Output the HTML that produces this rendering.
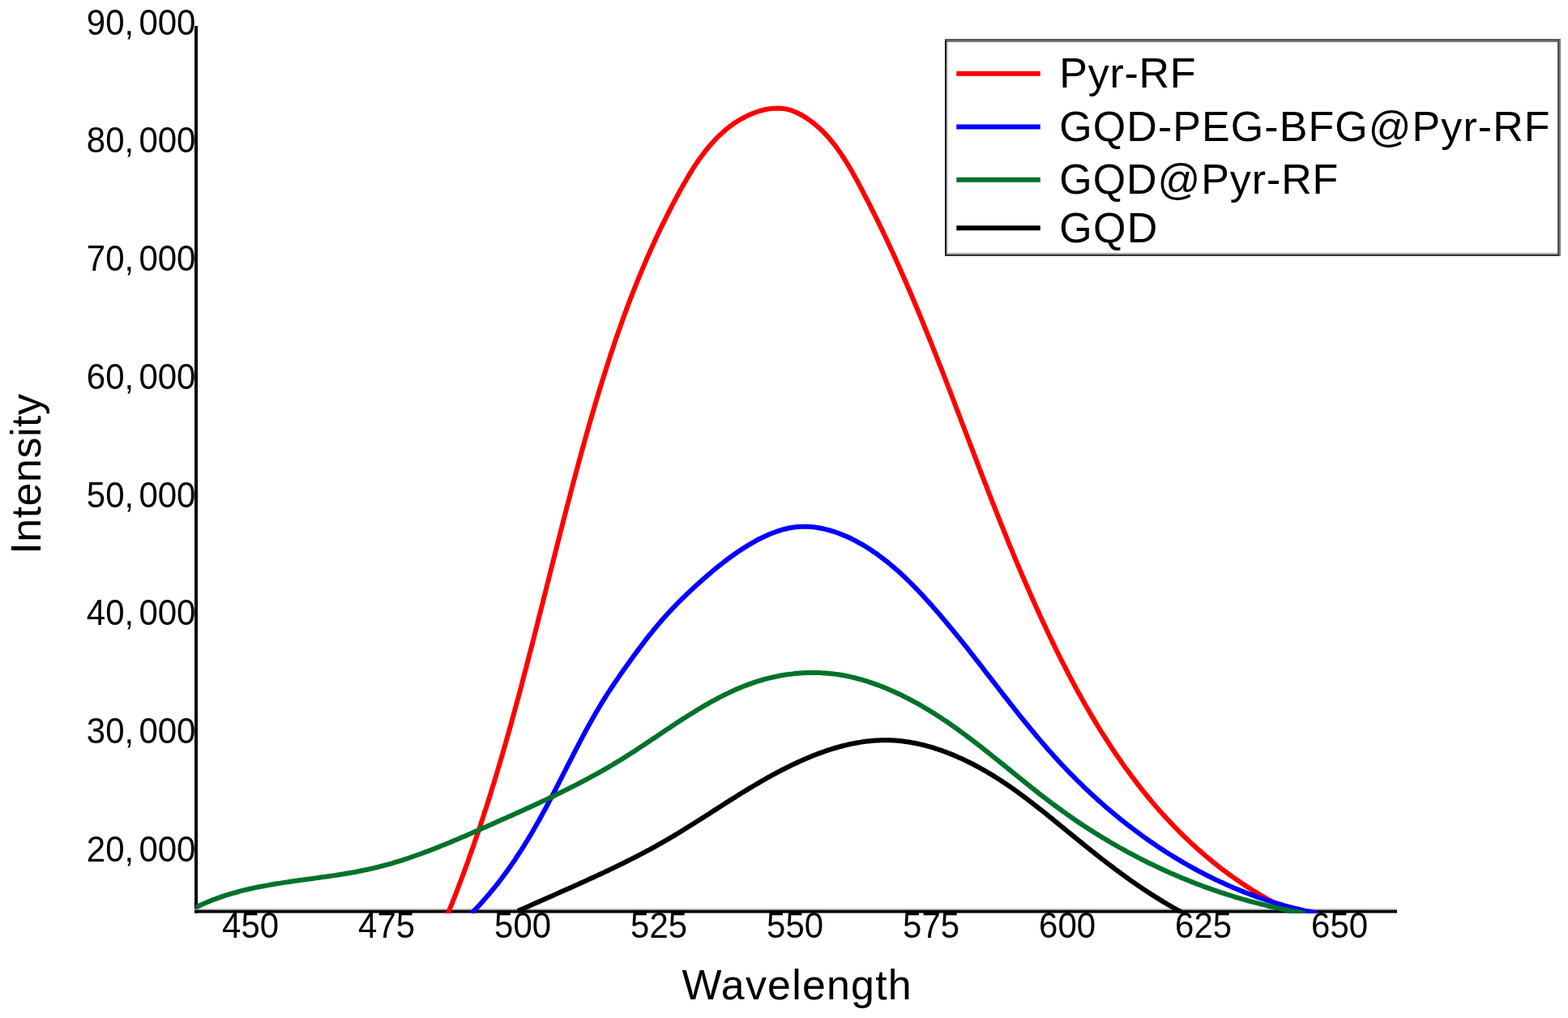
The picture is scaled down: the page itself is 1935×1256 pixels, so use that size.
<!DOCTYPE html>
<html><head><meta charset="utf-8"><title>Intensity vs Wavelength</title>
<style>
html,body{margin:0;padding:0;background:#fff;}
body{width:1935px;height:1256px;overflow:hidden;}
svg{display:block;}
text{font-family:"Liberation Sans", Arial, sans-serif;fill:#000;}
</style></head>
<body>
<svg width="1935" height="1256" viewBox="0 0 1935 1256">
<rect width="1935" height="1256" fill="#fff"/>
<rect x="240" y="32" width="4" height="1094.5" fill="#000"/>
<rect x="240" y="1121.2" width="1484" height="1.6" fill="#b0b0b0"/>
<rect x="240" y="1122.8" width="1484" height="3.7" fill="#000"/>
<defs><clipPath id="pa"><rect x="241.5" y="0" width="1490" height="1127"/></clipPath></defs>
<g clip-path="url(#pa)" fill="none" stroke-width="6.0" stroke-linejoin="round" stroke-linecap="butt">
<path stroke="#ff0000" d="M552.3,1128.1 L554.1,1123.8 L555.8,1119.5 L557.6,1115.2 L559.3,1110.9 L561.0,1106.6 L562.7,1102.3 L564.3,1097.9 L566.0,1093.6 L567.6,1089.3 L569.3,1084.9 L570.9,1080.6 L572.5,1076.2 L574.1,1071.9 L575.7,1067.5 L577.3,1063.2 L578.8,1058.8 L580.4,1054.4 L581.9,1050.1 L583.5,1045.7 L585.0,1041.3 L586.5,1036.9 L588.0,1032.5 L589.5,1028.2 L591.0,1023.8 L592.5,1019.4 L593.9,1015.0 L595.4,1010.5 L596.8,1006.1 L598.2,1001.7 L599.7,997.3 L601.1,992.9 L602.5,988.5 L603.9,984.0 L605.3,979.6 L606.6,975.2 L608.0,970.7 L609.4,966.3 L610.7,961.8 L612.1,957.4 L613.4,953.0 L614.7,948.5 L616.1,944.0 L617.4,939.6 L618.7,935.1 L620.0,930.7 L621.3,926.2 L622.6,921.7 L623.9,917.3 L625.1,912.8 L626.4,908.3 L627.7,903.8 L628.9,899.4 L630.2,894.9 L631.4,890.4 L632.6,885.9 L633.9,881.4 L635.1,876.9 L636.3,872.5 L637.5,868.0 L638.8,863.5 L640.0,859.0 L641.2,854.5 L642.4,850.0 L643.6,845.5 L644.7,841.0 L645.9,836.5 L647.1,832.0 L648.3,827.5 L649.5,823.0 L650.6,818.4 L651.8,813.9 L653.0,809.4 L654.1,804.9 L655.3,800.4 L656.5,795.9 L657.6,791.4 L658.8,786.9 L659.9,782.4 L661.1,777.8 L662.2,773.3 L663.4,768.8 L664.5,764.3 L665.6,759.8 L666.8,755.3 L667.9,750.7 L669.1,746.2 L670.2,741.7 L671.3,737.2 L672.5,732.7 L673.6,728.2 L674.7,723.6 L675.9,719.1 L677.0,714.6 L678.1,710.1 L679.3,705.6 L680.4,701.1 L681.5,696.5 L682.7,692.0 L683.8,687.5 L685.0,683.0 L686.1,678.5 L687.2,674.0 L688.4,669.5 L689.5,664.9 L690.7,660.4 L691.8,655.9 L693.0,651.4 L694.1,646.9 L695.3,642.4 L696.4,637.9 L697.6,633.4 L698.8,628.9 L699.9,624.4 L701.1,619.9 L702.3,615.4 L703.5,610.9 L704.6,606.4 L705.8,601.9 L707.0,597.4 L708.2,592.9 L709.4,588.4 L710.6,584.0 L711.8,579.5 L713.0,575.0 L714.2,570.5 L715.4,566.0 L716.7,561.6 L717.9,557.1 L719.1,552.6 L720.4,548.2 L721.6,543.7 L722.9,539.2 L724.1,534.8 L725.4,530.3 L726.6,525.8 L727.9,521.4 L729.2,516.9 L730.5,512.5 L731.8,508.1 L733.1,503.6 L734.4,499.2 L735.7,494.7 L737.0,490.3 L738.4,485.9 L739.7,481.5 L741.1,477.0 L742.4,472.6 L743.8,468.2 L745.2,463.8 L746.6,459.4 L748.0,455.0 L749.4,450.6 L750.8,446.2 L752.2,441.8 L753.6,437.4 L755.1,433.0 L756.6,428.6 L758.0,424.2 L759.5,419.8 L761.0,415.5 L762.5,411.1 L764.1,406.7 L765.6,402.4 L767.2,398.0 L768.7,393.7 L770.3,389.3 L771.9,385.0 L773.5,380.6 L775.1,376.3 L776.8,371.9 L778.4,367.6 L780.1,363.3 L781.8,359.0 L783.5,354.7 L785.2,350.3 L787.0,346.0 L788.7,341.7 L790.5,337.4 L792.3,333.1 L794.1,328.9 L795.9,324.6 L797.8,320.3 L799.6,316.0 L801.5,311.8 L803.4,307.5 L805.3,303.2 L807.3,299.0 L809.2,294.7 L811.2,290.5 L813.2,286.2 L815.3,282.0 L817.3,277.8 L819.4,273.6 L821.5,269.3 L823.6,265.1 L825.7,260.9 L827.9,256.7 L830.0,252.5 L832.2,248.3 L834.5,244.1 L836.7,240.0 L839.0,235.8 L841.3,231.6 L843.6,227.5 L846.0,223.4 L848.4,219.3 L850.8,215.2 L853.3,211.2 L855.8,207.2 L858.4,203.2 L861.0,199.3 L863.7,195.5 L866.5,191.7 L869.3,188.0 L872.1,184.4 L875.0,180.8 L878.0,177.4 L881.1,174.0 L884.2,170.7 L887.4,167.5 L890.7,164.4 L894.1,161.4 L897.5,158.5 L901.1,155.7 L904.7,153.1 L908.4,150.6 L912.3,148.2 L916.2,146.0 L920.2,143.9 L924.3,141.9 L928.6,140.1 L932.9,138.5 L937.3,137.0 L941.8,135.8 L946.4,134.8 L951.0,134.1 L955.5,133.7 L960.1,133.6 L964.7,133.8 L969.2,134.4 L973.6,135.4 L978.0,136.7 L982.2,138.5 L986.4,140.5 L990.5,142.7 L994.4,145.1 L998.2,147.7 L1001.9,150.4 L1005.5,153.2 L1009.0,156.2 L1012.4,159.2 L1015.6,162.4 L1018.8,165.7 L1021.9,169.0 L1024.9,172.5 L1027.8,176.1 L1030.6,179.7 L1033.4,183.4 L1036.1,187.2 L1038.7,191.1 L1041.3,195.0 L1043.8,198.9 L1046.3,203.0 L1048.7,207.0 L1051.1,211.1 L1053.4,215.2 L1055.7,219.4 L1058.0,223.5 L1060.2,227.7 L1062.4,231.9 L1064.7,236.1 L1066.8,240.3 L1069.0,244.5 L1071.2,248.7 L1073.3,252.9 L1075.4,257.1 L1077.5,261.3 L1079.6,265.5 L1081.7,269.7 L1083.8,273.9 L1085.8,278.1 L1087.9,282.3 L1089.9,286.5 L1091.9,290.7 L1093.9,295.0 L1095.9,299.2 L1097.8,303.4 L1099.8,307.6 L1101.7,311.9 L1103.7,316.1 L1105.6,320.3 L1107.5,324.6 L1109.4,328.8 L1111.3,333.0 L1113.1,337.3 L1115.0,341.5 L1116.9,345.8 L1118.7,350.0 L1120.5,354.3 L1122.4,358.5 L1124.2,362.8 L1126.0,367.1 L1127.8,371.3 L1129.6,375.6 L1131.4,379.9 L1133.2,384.1 L1134.9,388.4 L1136.7,392.7 L1138.5,397.0 L1140.2,401.3 L1141.9,405.6 L1143.7,409.9 L1145.4,414.1 L1147.1,418.4 L1148.9,422.7 L1150.6,427.0 L1152.3,431.4 L1154.0,435.7 L1155.7,440.0 L1157.4,444.3 L1159.1,448.6 L1160.8,452.9 L1162.5,457.2 L1164.1,461.5 L1165.8,465.9 L1167.5,470.2 L1169.2,474.5 L1170.8,478.8 L1172.5,483.1 L1174.2,487.5 L1175.8,491.8 L1177.5,496.1 L1179.1,500.5 L1180.8,504.8 L1182.4,509.1 L1184.1,513.5 L1185.8,517.8 L1187.4,522.1 L1189.1,526.5 L1190.7,530.8 L1192.4,535.1 L1194.0,539.5 L1195.7,543.8 L1197.3,548.1 L1199.0,552.5 L1200.6,556.8 L1202.3,561.1 L1203.9,565.5 L1205.6,569.8 L1207.2,574.1 L1208.9,578.5 L1210.6,582.8 L1212.2,587.1 L1213.9,591.5 L1215.6,595.8 L1217.3,600.1 L1218.9,604.5 L1220.6,608.8 L1222.3,613.1 L1224.0,617.5 L1225.7,621.8 L1227.4,626.1 L1229.1,630.4 L1230.8,634.8 L1232.5,639.1 L1234.2,643.4 L1235.9,647.7 L1237.7,652.0 L1239.4,656.3 L1241.2,660.6 L1242.9,665.0 L1244.6,669.3 L1246.4,673.6 L1248.2,677.9 L1249.9,682.2 L1251.7,686.5 L1253.5,690.8 L1255.3,695.1 L1257.1,699.3 L1258.9,703.6 L1260.7,707.9 L1262.6,712.2 L1264.4,716.5 L1266.3,720.8 L1268.1,725.0 L1270.0,729.3 L1271.8,733.6 L1273.7,737.8 L1275.6,742.1 L1277.5,746.3 L1279.4,750.6 L1281.4,754.8 L1283.3,759.1 L1285.2,763.3 L1287.2,767.6 L1289.2,771.8 L1291.2,776.0 L1293.1,780.2 L1295.1,784.5 L1297.2,788.7 L1299.2,792.9 L1301.2,797.1 L1303.3,801.3 L1305.4,805.5 L1307.4,809.7 L1309.5,813.9 L1311.6,818.0 L1313.8,822.2 L1315.9,826.4 L1318.1,830.5 L1320.2,834.7 L1322.4,838.8 L1324.6,842.9 L1326.8,847.0 L1329.0,851.1 L1331.3,855.2 L1333.6,859.3 L1335.8,863.4 L1338.1,867.5 L1340.4,871.5 L1342.8,875.5 L1345.1,879.6 L1347.5,883.6 L1349.9,887.6 L1352.3,891.6 L1354.7,895.6 L1357.1,899.5 L1359.6,903.5 L1362.1,907.4 L1364.6,911.3 L1367.1,915.2 L1369.6,919.1 L1372.2,923.0 L1374.7,926.8 L1377.3,930.7 L1380.0,934.5 L1382.6,938.3 L1385.2,942.1 L1387.9,945.9 L1390.6,949.6 L1393.4,953.3 L1396.1,957.1 L1398.9,960.7 L1401.7,964.4 L1404.5,968.1 L1407.3,971.7 L1410.2,975.3 L1413.1,978.9 L1416.0,982.5 L1418.9,986.0 L1421.9,989.6 L1424.9,993.1 L1427.9,996.6 L1430.9,1000.0 L1434.0,1003.4 L1437.1,1006.9 L1440.2,1010.2 L1443.3,1013.6 L1446.5,1016.9 L1449.7,1020.3 L1452.9,1023.5 L1456.1,1026.8 L1459.4,1030.0 L1462.7,1033.3 L1466.0,1036.4 L1469.4,1039.6 L1472.8,1042.7 L1476.2,1045.8 L1479.6,1048.9 L1483.1,1051.9 L1486.6,1055.0 L1490.1,1057.9 L1493.7,1060.9 L1497.3,1063.8 L1500.9,1066.7 L1504.5,1069.6 L1508.2,1072.4 L1511.9,1075.2 L1515.7,1078.0 L1519.5,1080.7 L1523.3,1083.4 L1527.1,1086.1 L1531.0,1088.7 L1534.9,1091.4 L1538.8,1093.9 L1542.8,1096.5 L1546.8,1099.0 L1550.8,1101.4 L1554.9,1103.9 L1559.0,1106.3 L1563.1,1108.7 L1567.3,1111.0 L1571.5,1113.3 L1575.7,1115.5 L1580.0,1117.7 L1584.3,1119.9 L1588.7,1122.1 L1593.0,1124.2 L1597.5,1126.2"/>
<path stroke="#0000ff" d="M582.3,1126.4 L584.4,1124.3 L586.4,1122.1 L588.5,1120.0 L590.5,1117.9 L592.5,1115.7 L594.5,1113.5 L596.4,1111.3 L598.4,1109.1 L600.3,1106.9 L602.2,1104.7 L604.1,1102.5 L606.0,1100.2 L607.9,1098.0 L609.7,1095.7 L611.6,1093.4 L613.4,1091.1 L615.2,1088.8 L617.0,1086.5 L618.7,1084.2 L620.5,1081.8 L622.2,1079.5 L624.0,1077.1 L625.7,1074.8 L627.4,1072.4 L629.1,1070.0 L630.8,1067.6 L632.4,1065.2 L634.1,1062.8 L635.7,1060.4 L637.3,1057.9 L638.9,1055.5 L640.5,1053.0 L642.1,1050.6 L643.7,1048.1 L645.3,1045.7 L646.8,1043.2 L648.3,1040.7 L649.9,1038.2 L651.4,1035.7 L652.9,1033.2 L654.4,1030.7 L655.9,1028.2 L657.4,1025.7 L658.9,1023.1 L660.3,1020.6 L661.8,1018.0 L663.2,1015.5 L664.7,1013.0 L666.1,1010.4 L667.5,1007.8 L668.9,1005.3 L670.3,1002.7 L671.7,1000.1 L673.1,997.6 L674.5,995.0 L675.9,992.4 L677.2,989.8 L678.6,987.2 L680.0,984.6 L681.3,982.0 L682.7,979.5 L684.0,976.9 L685.4,974.3 L686.7,971.7 L688.1,969.1 L689.4,966.4 L690.7,963.8 L692.1,961.2 L693.4,958.6 L694.7,956.0 L696.0,953.4 L697.4,950.8 L698.7,948.2 L700.0,945.6 L701.4,943.0 L702.7,940.4 L704.0,937.8 L705.4,935.2 L706.7,932.6 L708.0,930.0 L709.4,927.4 L710.7,924.8 L712.1,922.2 L713.4,919.6 L714.8,917.0 L716.1,914.4 L717.5,911.8 L718.9,909.2 L720.3,906.6 L721.6,904.1 L723.0,901.5 L724.4,898.9 L725.8,896.3 L727.3,893.8 L728.7,891.2 L730.1,888.7 L731.6,886.1 L733.0,883.6 L734.5,881.0 L735.9,878.5 L737.4,876.0 L738.9,873.5 L740.4,871.0 L741.9,868.4 L743.5,865.9 L745.0,863.4 L746.6,861.0 L748.1,858.5 L749.7,856.0 L751.3,853.5 L752.9,851.1 L754.5,848.6 L756.2,846.2 L757.8,843.7 L759.4,841.3 L761.1,838.9 L762.8,836.4 L764.5,834.0 L766.1,831.6 L767.8,829.2 L769.5,826.8 L771.2,824.4 L772.9,822.0 L774.7,819.6 L776.4,817.2 L778.1,814.8 L779.8,812.4 L781.5,810.0 L783.3,807.7 L785.0,805.3 L786.8,802.9 L788.5,800.6 L790.3,798.2 L792.0,795.9 L793.8,793.6 L795.6,791.2 L797.3,788.9 L799.1,786.6 L800.9,784.3 L802.8,782.1 L804.6,779.8 L806.4,777.5 L808.3,775.3 L810.1,773.1 L812.0,770.8 L813.9,768.6 L815.7,766.5 L817.6,764.3 L819.6,762.1 L821.5,760.0 L823.4,757.8 L825.4,755.7 L827.3,753.6 L829.3,751.5 L831.3,749.4 L833.3,747.4 L835.3,745.3 L837.3,743.2 L839.4,741.2 L841.4,739.2 L843.5,737.1 L845.6,735.1 L847.6,733.1 L849.7,731.1 L851.8,729.1 L854.0,727.1 L856.1,725.1 L858.3,723.2 L860.4,721.2 L862.6,719.2 L864.8,717.3 L867.0,715.3 L869.2,713.4 L871.4,711.5 L873.6,709.5 L875.9,707.6 L878.1,705.7 L880.4,703.8 L882.7,701.9 L885.0,700.0 L887.3,698.1 L889.7,696.3 L892.0,694.5 L894.4,692.6 L896.7,690.8 L899.1,689.0 L901.5,687.3 L904.0,685.5 L906.4,683.8 L908.9,682.1 L911.3,680.4 L913.8,678.7 L916.3,677.1 L918.9,675.5 L921.4,673.9 L924.0,672.4 L926.5,670.8 L929.1,669.3 L931.8,667.9 L934.4,666.4 L937.0,665.0 L939.7,663.7 L942.3,662.4 L945.0,661.2 L947.7,660.0 L950.4,658.8 L953.2,657.7 L955.9,656.7 L958.6,655.7 L961.4,654.8 L964.1,653.9 L966.9,653.2 L969.7,652.5 L972.4,651.8 L975.2,651.3 L978.0,650.8 L980.8,650.4 L983.6,650.1 L986.4,649.9 L989.2,649.8 L992.0,649.7 L994.8,649.7 L997.6,649.8 L1000.4,650.0 L1003.2,650.3 L1006.0,650.6 L1008.8,651.0 L1011.6,651.5 L1014.4,652.0 L1017.2,652.6 L1019.9,653.3 L1022.7,654.0 L1025.5,654.8 L1028.2,655.6 L1031.0,656.5 L1033.7,657.5 L1036.4,658.5 L1039.1,659.6 L1041.8,660.7 L1044.5,661.8 L1047.2,663.0 L1049.9,664.3 L1052.5,665.6 L1055.1,666.9 L1057.7,668.3 L1060.3,669.8 L1062.9,671.2 L1065.5,672.7 L1068.0,674.2 L1070.5,675.8 L1073.0,677.4 L1075.5,679.0 L1077.9,680.7 L1080.4,682.3 L1082.8,684.0 L1085.2,685.8 L1087.5,687.5 L1089.9,689.3 L1092.2,691.1 L1094.5,692.9 L1096.8,694.8 L1099.1,696.7 L1101.3,698.5 L1103.6,700.5 L1105.8,702.4 L1108.0,704.3 L1110.2,706.3 L1112.4,708.3 L1114.5,710.3 L1116.7,712.3 L1118.8,714.4 L1120.9,716.4 L1123.0,718.5 L1125.1,720.6 L1127.2,722.7 L1129.2,724.8 L1131.3,726.9 L1133.3,729.0 L1135.3,731.2 L1137.4,733.3 L1139.4,735.5 L1141.4,737.7 L1143.4,739.9 L1145.3,742.0 L1147.3,744.2 L1149.3,746.4 L1151.2,748.7 L1153.2,750.9 L1155.1,753.1 L1157.0,755.3 L1159.0,757.5 L1160.9,759.8 L1162.8,762.0 L1164.7,764.3 L1166.6,766.5 L1168.5,768.8 L1170.3,771.0 L1172.2,773.3 L1174.1,775.5 L1176.0,777.8 L1177.8,780.1 L1179.7,782.4 L1181.5,784.7 L1183.4,786.9 L1185.2,789.2 L1187.1,791.5 L1188.9,793.8 L1190.7,796.1 L1192.6,798.4 L1194.4,800.7 L1196.2,803.0 L1198.0,805.3 L1199.8,807.6 L1201.6,809.9 L1203.4,812.3 L1205.2,814.6 L1207.1,816.9 L1208.9,819.2 L1210.7,821.5 L1212.5,823.8 L1214.2,826.1 L1216.0,828.5 L1217.8,830.8 L1219.6,833.1 L1221.4,835.4 L1223.2,837.7 L1225.0,840.1 L1226.8,842.4 L1228.6,844.7 L1230.4,847.0 L1232.2,849.3 L1234.0,851.6 L1235.8,854.0 L1237.6,856.3 L1239.4,858.6 L1241.2,860.9 L1243.0,863.2 L1244.8,865.5 L1246.6,867.8 L1248.4,870.1 L1250.2,872.4 L1252.0,874.7 L1253.8,877.0 L1255.7,879.3 L1257.5,881.6 L1259.3,883.9 L1261.1,886.1 L1263.0,888.4 L1264.8,890.7 L1266.7,893.0 L1268.5,895.2 L1270.4,897.5 L1272.2,899.7 L1274.1,902.0 L1276.0,904.2 L1277.8,906.5 L1279.7,908.7 L1281.6,910.9 L1283.5,913.2 L1285.4,915.4 L1287.3,917.6 L1289.2,919.8 L1291.1,922.0 L1293.0,924.2 L1295.0,926.4 L1296.9,928.6 L1298.9,930.8 L1300.8,933.0 L1302.8,935.1 L1304.8,937.3 L1306.7,939.4 L1308.7,941.6 L1310.7,943.7 L1312.7,945.8 L1314.8,948.0 L1316.8,950.1 L1318.8,952.2 L1320.9,954.3 L1322.9,956.4 L1325.0,958.4 L1327.0,960.5 L1329.1,962.6 L1331.2,964.6 L1333.3,966.7 L1335.4,968.7 L1337.5,970.8 L1339.6,972.8 L1341.7,974.8 L1343.9,976.8 L1346.0,978.8 L1348.1,980.8 L1350.3,982.8 L1352.5,984.8 L1354.6,986.7 L1356.8,988.7 L1359.0,990.6 L1361.2,992.6 L1363.4,994.5 L1365.6,996.4 L1367.9,998.3 L1370.1,1000.2 L1372.3,1002.1 L1374.6,1004.0 L1376.8,1005.8 L1379.1,1007.7 L1381.4,1009.5 L1383.6,1011.4 L1385.9,1013.2 L1388.2,1015.0 L1390.5,1016.8 L1392.8,1018.6 L1395.2,1020.4 L1397.5,1022.2 L1399.8,1023.9 L1402.2,1025.7 L1404.5,1027.4 L1406.9,1029.2 L1409.2,1030.9 L1411.6,1032.6 L1414.0,1034.3 L1416.4,1036.0 L1418.8,1037.7 L1421.2,1039.3 L1423.6,1041.0 L1426.0,1042.6 L1428.4,1044.3 L1430.9,1045.9 L1433.3,1047.5 L1435.7,1049.1 L1438.2,1050.7 L1440.7,1052.2 L1443.1,1053.8 L1445.6,1055.3 L1448.1,1056.9 L1450.6,1058.4 L1453.1,1059.9 L1455.6,1061.4 L1458.1,1062.9 L1460.6,1064.4 L1463.2,1065.8 L1465.7,1067.3 L1468.2,1068.7 L1470.8,1070.1 L1473.4,1071.5 L1475.9,1072.9 L1478.5,1074.3 L1481.1,1075.7 L1483.7,1077.0 L1486.3,1078.4 L1488.9,1079.7 L1491.5,1081.0 L1494.1,1082.3 L1496.7,1083.6 L1499.3,1084.9 L1502.0,1086.1 L1504.6,1087.4 L1507.3,1088.6 L1509.9,1089.8 L1512.6,1091.0 L1515.3,1092.2 L1517.9,1093.4 L1520.6,1094.6 L1523.3,1095.7 L1526.0,1096.8 L1528.7,1097.9 L1531.4,1099.0 L1534.1,1100.1 L1536.9,1101.2 L1539.6,1102.3 L1542.3,1103.3 L1545.1,1104.3 L1547.8,1105.3 L1550.6,1106.3 L1553.4,1107.3 L1556.1,1108.3 L1558.9,1109.2 L1561.7,1110.2 L1564.5,1111.1 L1567.3,1112.0 L1570.1,1112.9 L1572.9,1113.7 L1575.7,1114.6 L1578.6,1115.4 L1581.4,1116.2 L1584.2,1117.1 L1587.1,1117.8 L1589.9,1118.6 L1592.8,1119.4 L1595.6,1120.1 L1598.5,1120.8 L1601.4,1121.5 L1604.3,1122.2 L1607.1,1122.9 L1610.0,1123.6 L1612.9,1124.2 L1615.9,1124.8 L1618.8,1125.4 L1621.7,1126.0 L1624.6,1126.6"/>
<path stroke="#00722a" d="M242.0,1119.3 L244.7,1118.0 L247.5,1116.7 L250.3,1115.4 L253.1,1114.2 L255.9,1113.0 L258.7,1111.9 L261.5,1110.7 L264.3,1109.7 L267.1,1108.6 L270.0,1107.6 L272.8,1106.6 L275.7,1105.6 L278.6,1104.7 L281.4,1103.8 L284.3,1102.9 L287.2,1102.1 L290.1,1101.3 L293.0,1100.5 L295.9,1099.7 L298.8,1098.9 L301.7,1098.2 L304.7,1097.5 L307.6,1096.8 L310.5,1096.2 L313.5,1095.5 L316.4,1094.9 L319.4,1094.3 L322.3,1093.7 L325.3,1093.2 L328.3,1092.6 L331.2,1092.1 L334.2,1091.5 L337.2,1091.0 L340.2,1090.5 L343.2,1090.0 L346.1,1089.6 L349.1,1089.1 L352.1,1088.6 L355.1,1088.2 L358.1,1087.7 L361.1,1087.3 L364.1,1086.9 L367.1,1086.5 L370.1,1086.0 L373.1,1085.6 L376.1,1085.2 L379.1,1084.8 L382.2,1084.4 L385.2,1084.0 L388.2,1083.6 L391.2,1083.1 L394.2,1082.7 L397.2,1082.3 L400.2,1081.9 L403.2,1081.5 L406.2,1081.0 L409.2,1080.6 L412.2,1080.1 L415.2,1079.7 L418.2,1079.2 L421.2,1078.7 L424.2,1078.3 L427.2,1077.8 L430.2,1077.3 L433.1,1076.7 L436.1,1076.2 L439.1,1075.7 L442.1,1075.1 L445.0,1074.5 L448.0,1073.9 L450.9,1073.3 L453.9,1072.7 L456.9,1072.0 L459.8,1071.4 L462.7,1070.7 L465.7,1070.0 L468.6,1069.2 L471.5,1068.5 L474.4,1067.7 L477.4,1066.9 L480.3,1066.1 L483.2,1065.3 L486.1,1064.4 L489.0,1063.5 L491.8,1062.7 L494.7,1061.8 L497.6,1060.8 L500.5,1059.9 L503.4,1059.0 L506.2,1058.0 L509.1,1057.0 L511.9,1056.0 L514.8,1055.0 L517.6,1054.0 L520.5,1053.0 L523.3,1051.9 L526.2,1050.8 L529.0,1049.8 L531.8,1048.7 L534.7,1047.6 L537.5,1046.5 L540.3,1045.4 L543.1,1044.3 L546.0,1043.1 L548.8,1042.0 L551.6,1040.8 L554.4,1039.7 L557.2,1038.5 L560.0,1037.3 L562.8,1036.2 L565.6,1035.0 L568.4,1033.8 L571.2,1032.6 L574.0,1031.4 L576.8,1030.2 L579.5,1029.0 L582.3,1027.8 L585.1,1026.5 L587.9,1025.3 L590.7,1024.1 L593.4,1022.9 L596.2,1021.6 L599.0,1020.4 L601.7,1019.2 L604.5,1018.0 L607.3,1016.7 L610.0,1015.5 L612.8,1014.3 L615.6,1013.0 L618.3,1011.8 L621.1,1010.6 L623.9,1009.4 L626.6,1008.1 L629.4,1006.9 L632.1,1005.7 L634.9,1004.4 L637.6,1003.2 L640.4,1002.0 L643.1,1000.7 L645.9,999.5 L648.6,998.2 L651.3,997.0 L654.1,995.7 L656.8,994.5 L659.5,993.2 L662.3,992.0 L665.0,990.7 L667.7,989.4 L670.5,988.1 L673.2,986.9 L675.9,985.6 L678.6,984.3 L681.3,983.0 L684.0,981.7 L686.7,980.4 L689.4,979.1 L692.1,977.7 L694.8,976.4 L697.5,975.1 L700.2,973.7 L702.9,972.4 L705.6,971.0 L708.3,969.7 L711.0,968.3 L713.7,966.9 L716.3,965.5 L719.0,964.1 L721.7,962.7 L724.3,961.3 L727.0,959.9 L729.6,958.4 L732.3,957.0 L734.9,955.5 L737.6,954.1 L740.2,952.6 L742.9,951.1 L745.5,949.6 L748.1,948.1 L750.7,946.6 L753.4,945.0 L756.0,943.5 L758.6,941.9 L761.2,940.4 L763.8,938.8 L766.4,937.2 L769.0,935.6 L771.6,934.0 L774.2,932.3 L776.7,930.7 L779.3,929.0 L781.9,927.4 L784.5,925.7 L787.0,924.0 L789.6,922.3 L792.2,920.6 L794.7,918.9 L797.3,917.2 L799.9,915.5 L802.4,913.8 L805.0,912.1 L807.5,910.4 L810.1,908.7 L812.7,906.9 L815.2,905.2 L817.8,903.5 L820.3,901.8 L822.9,900.1 L825.5,898.4 L828.0,896.7 L830.6,895.0 L833.2,893.3 L835.7,891.6 L838.3,889.9 L840.9,888.3 L843.4,886.6 L846.0,885.0 L848.6,883.3 L851.2,881.7 L853.8,880.1 L856.4,878.5 L859.0,876.9 L861.6,875.3 L864.2,873.7 L866.8,872.2 L869.4,870.6 L872.0,869.1 L874.7,867.6 L877.3,866.2 L880.0,864.7 L882.6,863.3 L885.3,861.8 L887.9,860.4 L890.6,859.1 L893.3,857.7 L896.0,856.4 L898.7,855.1 L901.4,853.8 L904.1,852.6 L906.8,851.3 L909.5,850.1 L912.3,849.0 L915.0,847.8 L917.8,846.7 L920.6,845.6 L923.3,844.6 L926.1,843.6 L928.9,842.6 L931.7,841.6 L934.6,840.7 L937.4,839.8 L940.3,839.0 L943.1,838.2 L946.0,837.4 L948.9,836.7 L951.8,836.0 L954.7,835.3 L957.6,834.7 L960.5,834.1 L963.4,833.5 L966.4,833.0 L969.3,832.5 L972.3,832.1 L975.2,831.7 L978.2,831.4 L981.2,831.0 L984.1,830.8 L987.1,830.5 L990.1,830.3 L993.1,830.2 L996.1,830.1 L999.1,830.0 L1002.1,830.0 L1005.1,830.0 L1008.0,830.0 L1011.0,830.1 L1014.0,830.2 L1017.0,830.4 L1020.0,830.6 L1023.0,830.9 L1026.0,831.2 L1029.0,831.5 L1032.0,831.9 L1035.0,832.3 L1037.9,832.8 L1040.9,833.3 L1043.9,833.9 L1046.8,834.5 L1049.8,835.1 L1052.7,835.8 L1055.7,836.5 L1058.6,837.3 L1061.5,838.1 L1064.4,838.9 L1067.4,839.8 L1070.3,840.7 L1073.2,841.6 L1076.1,842.6 L1078.9,843.6 L1081.8,844.6 L1084.7,845.7 L1087.5,846.8 L1090.4,847.9 L1093.2,849.0 L1096.0,850.2 L1098.8,851.4 L1101.7,852.7 L1104.4,853.9 L1107.2,855.2 L1110.0,856.5 L1112.7,857.8 L1115.5,859.2 L1118.2,860.6 L1120.9,862.0 L1123.6,863.4 L1126.3,864.8 L1129.0,866.3 L1131.7,867.7 L1134.3,869.2 L1137.0,870.7 L1139.6,872.3 L1142.2,873.8 L1144.8,875.4 L1147.4,876.9 L1150.0,878.5 L1152.6,880.1 L1155.1,881.8 L1157.7,883.4 L1160.2,885.1 L1162.7,886.7 L1165.3,888.4 L1167.8,890.1 L1170.3,891.8 L1172.8,893.5 L1175.2,895.3 L1177.7,897.0 L1180.2,898.8 L1182.7,900.5 L1185.1,902.3 L1187.5,904.1 L1190.0,905.9 L1192.4,907.7 L1194.8,909.5 L1197.3,911.3 L1199.7,913.1 L1202.1,915.0 L1204.5,916.8 L1206.9,918.7 L1209.3,920.5 L1211.7,922.4 L1214.1,924.3 L1216.4,926.2 L1218.8,928.0 L1221.2,929.9 L1223.6,931.8 L1225.9,933.7 L1228.3,935.6 L1230.7,937.5 L1233.0,939.4 L1235.4,941.3 L1237.8,943.2 L1240.1,945.1 L1242.5,947.0 L1244.8,948.9 L1247.2,950.8 L1249.5,952.8 L1251.9,954.7 L1254.3,956.6 L1256.6,958.5 L1259.0,960.4 L1261.3,962.3 L1263.7,964.2 L1266.1,966.1 L1268.4,968.0 L1270.8,969.9 L1273.2,971.8 L1275.6,973.6 L1277.9,975.5 L1280.3,977.4 L1282.7,979.3 L1285.1,981.1 L1287.5,983.0 L1289.9,984.8 L1292.3,986.7 L1294.7,988.5 L1297.1,990.3 L1299.5,992.1 L1302.0,994.0 L1304.4,995.7 L1306.8,997.5 L1309.3,999.3 L1311.7,1001.1 L1314.2,1002.8 L1316.7,1004.6 L1319.1,1006.3 L1321.6,1008.1 L1324.1,1009.8 L1326.6,1011.5 L1329.1,1013.2 L1331.6,1014.9 L1334.1,1016.6 L1336.6,1018.2 L1339.2,1019.9 L1341.7,1021.5 L1344.2,1023.2 L1346.8,1024.8 L1349.3,1026.4 L1351.9,1028.0 L1354.5,1029.6 L1357.0,1031.2 L1359.6,1032.8 L1362.2,1034.3 L1364.8,1035.9 L1367.4,1037.4 L1370.0,1039.0 L1372.6,1040.5 L1375.2,1042.0 L1377.8,1043.5 L1380.4,1045.0 L1383.1,1046.5 L1385.7,1047.9 L1388.4,1049.4 L1391.0,1050.9 L1393.7,1052.3 L1396.3,1053.7 L1399.0,1055.1 L1401.7,1056.5 L1404.3,1057.9 L1407.0,1059.3 L1409.7,1060.7 L1412.4,1062.0 L1415.1,1063.4 L1417.8,1064.7 L1420.5,1066.0 L1423.3,1067.3 L1426.0,1068.6 L1428.7,1069.9 L1431.4,1071.2 L1434.2,1072.5 L1436.9,1073.7 L1439.7,1075.0 L1442.4,1076.2 L1445.2,1077.4 L1448.0,1078.6 L1450.7,1079.8 L1453.5,1081.0 L1456.3,1082.2 L1459.1,1083.4 L1461.9,1084.5 L1464.7,1085.6 L1467.5,1086.8 L1470.3,1087.9 L1473.1,1089.0 L1475.9,1090.1 L1478.7,1091.2 L1481.6,1092.2 L1484.4,1093.3 L1487.2,1094.3 L1490.1,1095.4 L1492.9,1096.4 L1495.8,1097.4 L1498.6,1098.4 L1501.5,1099.4 L1504.4,1100.3 L1507.2,1101.3 L1510.1,1102.2 L1513.0,1103.2 L1515.9,1104.1 L1518.8,1105.0 L1521.7,1105.9 L1524.5,1106.8 L1527.5,1107.7 L1530.4,1108.5 L1533.3,1109.4 L1536.2,1110.2 L1539.1,1111.0 L1542.0,1111.8 L1545.0,1112.6 L1547.9,1113.4 L1550.8,1114.2 L1553.8,1114.9 L1556.7,1115.7 L1559.7,1116.4 L1562.6,1117.1 L1565.6,1117.8 L1568.5,1118.5 L1571.5,1119.2 L1574.5,1119.9 L1577.4,1120.5 L1580.4,1121.2 L1583.4,1121.8 L1586.4,1122.4 L1589.4,1123.0 L1592.4,1123.6 L1595.3,1124.2 L1598.3,1124.8 L1601.4,1125.3 L1604.4,1125.8 L1607.4,1126.4 L1610.4,1126.9"/>
<path stroke="#000000" d="M639.0,1124.1 L640.7,1123.3 L642.5,1122.5 L644.2,1121.8 L645.9,1121.0 L647.6,1120.2 L649.3,1119.5 L651.1,1118.7 L652.8,1117.9 L654.5,1117.1 L656.2,1116.4 L658.0,1115.6 L659.7,1114.8 L661.4,1114.1 L663.1,1113.3 L664.9,1112.6 L666.6,1111.8 L668.3,1111.0 L670.1,1110.3 L671.8,1109.5 L673.5,1108.7 L675.2,1108.0 L677.0,1107.2 L678.7,1106.4 L680.4,1105.7 L682.2,1104.9 L683.9,1104.1 L685.6,1103.4 L687.3,1102.6 L689.1,1101.8 L690.8,1101.1 L692.5,1100.3 L694.2,1099.6 L696.0,1098.8 L697.7,1098.0 L699.4,1097.2 L701.2,1096.5 L702.9,1095.7 L704.6,1094.9 L706.3,1094.2 L708.1,1093.4 L709.8,1092.6 L711.5,1091.9 L713.2,1091.1 L715.0,1090.3 L716.7,1089.5 L718.4,1088.7 L720.1,1088.0 L721.9,1087.2 L723.6,1086.4 L725.3,1085.6 L727.0,1084.8 L728.7,1084.1 L730.4,1083.3 L732.2,1082.5 L733.9,1081.7 L735.6,1080.9 L737.3,1080.1 L739.0,1079.3 L740.7,1078.5 L742.4,1077.7 L744.2,1076.9 L745.9,1076.1 L747.6,1075.3 L749.3,1074.5 L751.0,1073.7 L752.7,1072.9 L754.4,1072.1 L756.1,1071.3 L757.8,1070.4 L759.5,1069.6 L761.2,1068.8 L762.9,1068.0 L764.6,1067.1 L766.3,1066.3 L768.0,1065.5 L769.7,1064.7 L771.3,1063.8 L773.0,1063.0 L774.7,1062.1 L776.4,1061.3 L778.1,1060.4 L779.8,1059.6 L781.4,1058.7 L783.1,1057.9 L784.8,1057.0 L786.5,1056.2 L788.1,1055.3 L789.8,1054.4 L791.5,1053.6 L793.2,1052.7 L794.8,1051.8 L796.5,1050.9 L798.1,1050.0 L799.8,1049.2 L801.5,1048.3 L803.1,1047.4 L804.8,1046.5 L806.4,1045.6 L808.1,1044.7 L809.7,1043.8 L811.3,1042.8 L813.0,1041.9 L814.6,1041.0 L816.3,1040.1 L817.9,1039.1 L819.5,1038.2 L821.2,1037.3 L822.8,1036.3 L824.4,1035.4 L826.0,1034.4 L827.7,1033.5 L829.3,1032.5 L830.9,1031.6 L832.5,1030.6 L834.1,1029.6 L835.7,1028.7 L837.3,1027.7 L838.9,1026.7 L840.5,1025.7 L842.1,1024.8 L843.7,1023.8 L845.3,1022.8 L846.9,1021.8 L848.5,1020.8 L850.1,1019.8 L851.7,1018.8 L853.3,1017.8 L854.9,1016.8 L856.5,1015.8 L858.1,1014.8 L859.7,1013.8 L861.3,1012.8 L862.9,1011.8 L864.5,1010.8 L866.1,1009.8 L867.6,1008.7 L869.2,1007.7 L870.8,1006.7 L872.4,1005.7 L874.0,1004.7 L875.6,1003.7 L877.2,1002.6 L878.8,1001.6 L880.3,1000.6 L881.9,999.6 L883.5,998.6 L885.1,997.6 L886.7,996.5 L888.3,995.5 L889.9,994.5 L891.5,993.5 L893.1,992.5 L894.7,991.4 L896.3,990.4 L897.9,989.4 L899.4,988.4 L901.0,987.4 L902.6,986.4 L904.2,985.4 L905.9,984.4 L907.5,983.4 L909.1,982.3 L910.7,981.3 L912.3,980.3 L913.9,979.3 L915.5,978.3 L917.1,977.3 L918.7,976.4 L920.4,975.4 L922.0,974.4 L923.6,973.4 L925.2,972.4 L926.9,971.4 L928.5,970.5 L930.1,969.5 L931.8,968.5 L933.4,967.5 L935.1,966.6 L936.7,965.6 L938.3,964.7 L940.0,963.7 L941.7,962.8 L943.3,961.8 L945.0,960.9 L946.6,959.9 L948.3,959.0 L950.0,958.1 L951.7,957.1 L953.3,956.2 L955.0,955.3 L956.7,954.4 L958.4,953.5 L960.1,952.6 L961.8,951.7 L963.5,950.8 L965.2,949.9 L966.9,949.0 L968.6,948.2 L970.3,947.3 L972.0,946.5 L973.8,945.6 L975.5,944.8 L977.2,943.9 L978.9,943.1 L980.7,942.3 L982.4,941.5 L984.1,940.6 L985.9,939.9 L987.6,939.1 L989.4,938.3 L991.1,937.5 L992.9,936.7 L994.6,936.0 L996.4,935.2 L998.1,934.5 L999.9,933.8 L1001.7,933.1 L1003.4,932.3 L1005.2,931.6 L1007.0,931.0 L1008.7,930.3 L1010.5,929.6 L1012.3,928.9 L1014.1,928.3 L1015.9,927.7 L1017.6,927.0 L1019.4,926.4 L1021.2,925.8 L1023.0,925.2 L1024.8,924.7 L1026.6,924.1 L1028.4,923.5 L1030.2,923.0 L1032.0,922.5 L1033.8,922.0 L1035.6,921.4 L1037.4,921.0 L1039.2,920.5 L1041.0,920.0 L1042.8,919.6 L1044.6,919.1 L1046.4,918.7 L1048.2,918.3 L1050.0,917.9 L1051.9,917.5 L1053.7,917.2 L1055.5,916.8 L1057.3,916.5 L1059.1,916.2 L1060.9,915.9 L1062.8,915.6 L1064.6,915.3 L1066.4,915.0 L1068.2,914.8 L1070.1,914.6 L1071.9,914.4 L1073.7,914.2 L1075.5,914.0 L1077.4,913.8 L1079.2,913.7 L1081.0,913.6 L1082.8,913.5 L1084.7,913.4 L1086.5,913.3 L1088.3,913.3 L1090.2,913.2 L1092.0,913.2 L1093.8,913.2 L1095.6,913.2 L1097.5,913.3 L1099.3,913.3 L1101.1,913.4 L1103.0,913.5 L1104.8,913.6 L1106.6,913.8 L1108.5,913.9 L1110.3,914.1 L1112.1,914.3 L1114.0,914.5 L1115.8,914.7 L1117.6,915.0 L1119.4,915.2 L1121.3,915.5 L1123.1,915.8 L1124.9,916.1 L1126.7,916.5 L1128.6,916.8 L1130.4,917.2 L1132.2,917.5 L1134.0,917.9 L1135.8,918.4 L1137.7,918.8 L1139.5,919.2 L1141.3,919.7 L1143.1,920.2 L1144.9,920.6 L1146.7,921.1 L1148.5,921.7 L1150.3,922.2 L1152.1,922.7 L1153.9,923.3 L1155.7,923.9 L1157.5,924.5 L1159.3,925.1 L1161.1,925.7 L1162.9,926.3 L1164.6,927.0 L1166.4,927.6 L1168.2,928.3 L1170.0,929.0 L1171.7,929.7 L1173.5,930.4 L1175.3,931.1 L1177.0,931.8 L1178.8,932.6 L1180.6,933.3 L1182.3,934.1 L1184.1,934.9 L1185.8,935.6 L1187.5,936.4 L1189.3,937.3 L1191.0,938.1 L1192.7,938.9 L1194.5,939.7 L1196.2,940.6 L1197.9,941.5 L1199.6,942.3 L1201.3,943.2 L1203.0,944.1 L1204.7,945.0 L1206.4,945.9 L1208.1,946.8 L1209.8,947.7 L1211.4,948.7 L1213.1,949.6 L1214.8,950.6 L1216.4,951.5 L1218.1,952.5 L1219.7,953.5 L1221.4,954.4 L1223.0,955.4 L1224.7,956.4 L1226.3,957.4 L1227.9,958.4 L1229.5,959.5 L1231.2,960.5 L1232.8,961.5 L1234.4,962.5 L1236.0,963.6 L1237.6,964.6 L1239.1,965.7 L1240.7,966.7 L1242.3,967.8 L1243.9,968.9 L1245.5,970.0 L1247.0,971.0 L1248.6,972.1 L1250.1,973.2 L1251.7,974.3 L1253.2,975.4 L1254.8,976.5 L1256.3,977.6 L1257.9,978.8 L1259.4,979.9 L1260.9,981.0 L1262.5,982.1 L1264.0,983.3 L1265.5,984.4 L1267.0,985.5 L1268.5,986.7 L1270.0,987.8 L1271.5,989.0 L1273.1,990.1 L1274.6,991.3 L1276.1,992.5 L1277.5,993.6 L1279.0,994.8 L1280.5,996.0 L1282.0,997.1 L1283.5,998.3 L1285.0,999.5 L1286.5,1000.7 L1288.0,1001.8 L1289.4,1003.0 L1290.9,1004.2 L1292.4,1005.4 L1293.9,1006.6 L1295.3,1007.8 L1296.8,1008.9 L1298.3,1010.1 L1299.7,1011.3 L1301.2,1012.5 L1302.7,1013.7 L1304.1,1014.9 L1305.6,1016.1 L1307.1,1017.3 L1308.5,1018.5 L1310.0,1019.7 L1311.4,1020.9 L1312.9,1022.1 L1314.4,1023.3 L1315.8,1024.5 L1317.3,1025.7 L1318.7,1026.9 L1320.2,1028.0 L1321.7,1029.2 L1323.1,1030.4 L1324.6,1031.6 L1326.0,1032.8 L1327.5,1034.0 L1329.0,1035.2 L1330.4,1036.4 L1331.9,1037.5 L1333.3,1038.7 L1334.8,1039.9 L1336.3,1041.1 L1337.7,1042.3 L1339.2,1043.5 L1340.7,1044.6 L1342.1,1045.8 L1343.6,1047.0 L1345.1,1048.1 L1346.5,1049.3 L1348.0,1050.5 L1349.5,1051.6 L1350.9,1052.8 L1352.4,1054.0 L1353.9,1055.1 L1355.3,1056.3 L1356.8,1057.4 L1358.3,1058.6 L1359.8,1059.8 L1361.3,1060.9 L1362.7,1062.0 L1364.2,1063.2 L1365.7,1064.3 L1367.2,1065.5 L1368.7,1066.6 L1370.2,1067.7 L1371.7,1068.9 L1373.2,1070.0 L1374.7,1071.1 L1376.2,1072.3 L1377.7,1073.4 L1379.2,1074.5 L1380.7,1075.6 L1382.2,1076.7 L1383.7,1077.8 L1385.2,1078.9 L1386.7,1080.0 L1388.2,1081.1 L1389.7,1082.2 L1391.3,1083.3 L1392.8,1084.4 L1394.3,1085.5 L1395.9,1086.6 L1397.4,1087.7 L1398.9,1088.7 L1400.5,1089.8 L1402.0,1090.9 L1403.6,1092.0 L1405.1,1093.0 L1406.7,1094.1 L1408.2,1095.1 L1409.8,1096.2 L1411.3,1097.2 L1412.9,1098.3 L1414.5,1099.3 L1416.0,1100.3 L1417.6,1101.4 L1419.2,1102.4 L1420.8,1103.4 L1422.4,1104.4 L1424.0,1105.4 L1425.6,1106.4 L1427.1,1107.4 L1428.8,1108.4 L1430.4,1109.4 L1432.0,1110.4 L1433.6,1111.4 L1435.2,1112.4 L1436.8,1113.4 L1438.5,1114.3 L1440.1,1115.3 L1441.7,1116.3 L1443.4,1117.2 L1445.0,1118.2 L1446.7,1119.1 L1448.3,1120.0 L1450.0,1121.0 L1451.6,1121.9 L1453.3,1122.8 L1455.0,1123.7 L1456.7,1124.7 L1458.4,1125.6 L1460.0,1126.5 L1461.7,1127.4 L1463.4,1128.2 L1465.1,1129.1"/>
</g>
<g font-size="44">
<text transform="translate(241.5,42.7) scale(0.955,1)" text-anchor="end">90,<tspan dx="6.5">000</tspan></text>
<text transform="translate(241.5,188.4) scale(0.955,1)" text-anchor="end">80,<tspan dx="6.5">000</tspan></text>
<text transform="translate(241.5,334.1) scale(0.955,1)" text-anchor="end">70,<tspan dx="6.5">000</tspan></text>
<text transform="translate(241.5,479.8) scale(0.955,1)" text-anchor="end">60,<tspan dx="6.5">000</tspan></text>
<text transform="translate(241.5,625.5) scale(0.955,1)" text-anchor="end">50,<tspan dx="6.5">000</tspan></text>
<text transform="translate(241.5,771.2) scale(0.955,1)" text-anchor="end">40,<tspan dx="6.5">000</tspan></text>
<text transform="translate(241.5,916.9) scale(0.955,1)" text-anchor="end">30,<tspan dx="6.5">000</tspan></text>
<text transform="translate(241.5,1062.6) scale(0.955,1)" text-anchor="end">20,<tspan dx="6.5">000</tspan></text>
<text transform="translate(309.1,1156.5) scale(0.955,1)" text-anchor="middle">450</text>
<text transform="translate(477.1,1156.5) scale(0.955,1)" text-anchor="middle">475</text>
<text transform="translate(645.1,1156.5) scale(0.955,1)" text-anchor="middle">500</text>
<text transform="translate(813.1,1156.5) scale(0.955,1)" text-anchor="middle">525</text>
<text transform="translate(981.1,1156.5) scale(0.955,1)" text-anchor="middle">550</text>
<text transform="translate(1149.1,1156.5) scale(0.955,1)" text-anchor="middle">575</text>
<text transform="translate(1317.1,1156.5) scale(0.955,1)" text-anchor="middle">600</text>
<text transform="translate(1485.1,1156.5) scale(0.955,1)" text-anchor="middle">625</text>
<text transform="translate(1653.1,1156.5) scale(0.955,1)" text-anchor="middle">650</text>
</g>
<g>
<rect x="1166" y="48" width="760" height="268" fill="#fff"/>
<rect x="1166" y="48" width="760" height="2" fill="#555"/>
<rect x="1168" y="50" width="756" height="2" fill="#777"/>
<rect x="1922" y="50" width="2" height="264" fill="#505050"/>
<rect x="1924" y="48" width="2" height="268" fill="#787878"/>
<rect x="1168" y="312" width="754" height="2" fill="#aaa"/>
<rect x="1166" y="314" width="758" height="2" fill="#333"/>
<rect x="1166" y="50" width="2" height="264" fill="#000"/>
<rect x="1168" y="52" width="2" height="260" fill="#c8c8c8"/>
</g>
<g font-size="52">
<rect x="1180.3" y="87.8" width="103.5" height="6" fill="#ff0000"/>
<text x="1307.3" y="107.8" letter-spacing="0.74">Pyr-RF</text>
<rect x="1180.3" y="153.5" width="103.5" height="6" fill="#0000ff"/>
<text x="1307.3" y="173.5" letter-spacing="1.06">GQD-PEG-BFG@Pyr-RF</text>
<rect x="1180.3" y="218.8" width="103.5" height="6" fill="#00722a"/>
<text x="1307.3" y="239.3" letter-spacing="0.91">GQD@Pyr-RF</text>
<rect x="1180.3" y="278.3" width="103.5" height="6" fill="#000000"/>
<text x="1307.3" y="298.6" letter-spacing="1.25">GQD</text>
<text x="841.5" y="1232.8" letter-spacing="1.17">Wavelength</text>
<text transform="translate(50.3,683.7) rotate(-90)" x="0" y="0" letter-spacing="0.5">Intensity</text>
</g>
</svg>
</body></html>
